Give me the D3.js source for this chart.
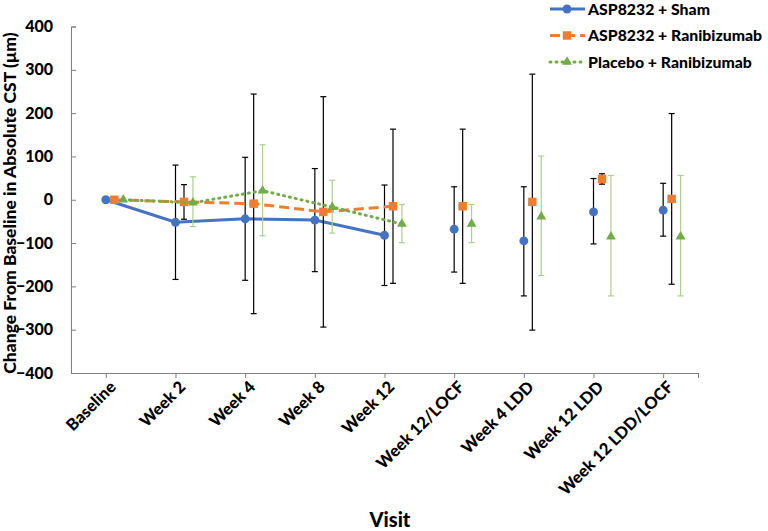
<!DOCTYPE html>
<html>
<head>
<meta charset="utf-8">
<script src="https://cdn.jsdelivr.net/npm/d3@7"></script>
<style>
  body { margin: 0; background: #fff; }
  text { font-family: Lato, "Open Sans", sans-serif; font-weight: 900; fill: #000; }
</style>
</head>
<body>
<div id="chart"></div>
<script>
// visits on the x axis
var visits = ["Baseline", "Week 2", "Week 4", "Week 8", "Week 12", "Week 12/LOCF",
    "Week 4 LDD", "Week 12 LDD", "Week 12 LDD/LOCF"];

var yTicks = [400, 300, 200, 100, 0, -100, -200, -300, -400];

// ASP8232 + Sham
var shamMean = [0, -52, -44, -47, -82, -68, -95, -28, -24];
var shamHigh = [null, 80, 98, 72, 34, 30, 30, 49, 38];
var shamLow = [null, -184, -186, -166, -198, -167, -222, -102, -84];

// ASP8232 + Ranibizumab
var raniMean = [0, -5, -9, -28, -15, -15, -5, 48, 2];
var raniHigh = [null, 35, 244, 238, 163, 163, 290, 60, 199];
var raniLow = [null, -45, -263, -294, -193, -193, -301, 36, -195];

// Placebo + Ranibizumab
var placMean = [0, -7, 21, -17, -56, -56, -39, -85, -85];
var placHigh = [null, 53, 127, 45, -11, -11, 101, 56, 56];
var placLow = [null, -62, -83, -77, -99, -99, -175, -222, -222];

var svgWidth = 768;
var svgHeight = 531;

var svg = d3.select("#chart")
    .append("svg")
    .attr("width", svgWidth)
    .attr("height", svgHeight);

var x = d3.scaleLinear()
    .domain([-0.5, visits.length - 0.5])
    .range([71, 698]);

var y = d3.scaleLinear()
    .domain([-400, 400])
    .range([373, 26.5]);

// axes
var yAxis = d3.axisLeft(y).tickValues(yTicks).tickSize(-5).tickFormat(d3.format("d"));
var gy = svg.append("g")
    .attr("transform", "translate(71,0)")
    .call(yAxis);
gy.select(".domain").attr("stroke", "#7f7f7f");
gy.selectAll(".tick line").attr("stroke", "#7f7f7f");
gy.selectAll(".tick text")
    .attr("x", -18)
    .style("font-size", "16px");

var xAxis = d3.axisBottom(x)
    .tickValues(d3.range(visits.length).concat([visits.length - 0.5]))
    .tickSize(5)
    .tickSizeOuter(0)
    .tickFormat("");
var gx = svg.append("g")
    .attr("transform", "translate(0,373)")
    .call(xAxis);
gx.select(".domain").attr("stroke", "#7f7f7f");
gx.selectAll(".tick line").attr("stroke", "#7f7f7f");

svg.selectAll(".xlabel")
    .data(visits)
    .enter()
    .append("text")
    .attr("class", "xlabel")
    .attr("text-anchor", "end")
    .attr("transform", (d, i) => `translate(${x(i) + 7},${384}) rotate(-45)`)
    .attr("dy", "0.35em")
    .style("font-size", "16.5px")
    .text(d => d);

// axis titles
svg.append("text")
    .attr("transform", "rotate(-90)")
    .attr("x", -203)
    .attr("y", 16)
    .attr("text-anchor", "middle")
    .style("font-size", "17.5px")
    .text("Change From Baseline in Absolute CST (µm)");

svg.append("text")
    .attr("x", 390)
    .attr("y", 527)
    .attr("text-anchor", "middle")
    .style("font-size", "20px")
    .text("Visit");

var series = [
    { name: "ASP8232 + Sham", mean: shamMean, high: shamHigh, low: shamLow, off: 0,
      color: "#4472c4", bar: "#000", dash: null, width: 3, shape: d3.symbolCircle, size: 62 },
    { name: "ASP8232 + Ranibizumab", mean: raniMean, high: raniHigh, low: raniLow, off: 0.122,
      color: "#ed7d31", bar: "#000", dash: "10,5", width: 3, shape: d3.symbolSquare, size: 72 },
    { name: "Placebo + Ranibizumab", mean: placMean, high: placHigh, low: placLow, off: 0.25,
      color: "#70ad47", bar: "#a9d18e", dash: "1,5", width: 3, shape: d3.symbolTriangle, size: 42 }
];

var line = d3.line()
    .x(d => x(d.i + d.off))
    .y(d => y(d.v));

series.forEach(function (s) {
    var pts = s.mean.map((v, i) => ({ i: i, v: v, off: s.off, hi: s.high[i], lo: s.low[i] }));

    // connected only from Baseline to Week 12
    svg.append("path")
        .datum(pts.slice(0, 5))
        .attr("d", line)
        .attr("fill", "none")
        .attr("stroke", s.color)
        .attr("stroke-width", s.width)
        .attr("stroke-linecap", s.dash === "1,5" ? "round" : "butt")
        .attr("stroke-dasharray", s.dash);

    var bars = svg.append("g")
        .selectAll("g")
        .data(pts.filter(d => d.hi !== null))
        .enter()
        .append("g")
        .attr("stroke", s.bar)
        .attr("stroke-width", 1.2);
    bars.append("line")
        .attr("x1", d => x(d.i + d.off)).attr("x2", d => x(d.i + d.off))
        .attr("y1", d => y(d.hi)).attr("y2", d => y(d.lo));
    bars.append("line")
        .attr("x1", d => x(d.i + d.off) - 3).attr("x2", d => x(d.i + d.off) + 3)
        .attr("y1", d => y(d.hi)).attr("y2", d => y(d.hi));
    bars.append("line")
        .attr("x1", d => x(d.i + d.off) - 3).attr("x2", d => x(d.i + d.off) + 3)
        .attr("y1", d => y(d.lo)).attr("y2", d => y(d.lo));

    svg.append("g")
        .selectAll("path")
        .data(pts)
        .enter()
        .append("path")
        .attr("d", d3.symbol().type(s.shape).size(s.size))
        .attr("transform", d => `translate(${x(d.i + d.off)},${y(d.v)})`)
        .attr("fill", s.color);
});

// legend
var legend = svg.append("g");
series.forEach(function (s, k) {
    var ly = 9 + k * 26.5;
    legend.append("line")
        .attr("x1", 550).attr("x2", 585)
        .attr("y1", ly).attr("y2", ly)
        .attr("stroke", s.color)
        .attr("stroke-width", s.width)
        .attr("stroke-linecap", s.dash === "1,5" ? "round" : "butt")
        .attr("stroke-dasharray", s.dash);
    legend.append("path")
        .attr("d", d3.symbol().type(s.shape).size(s.size))
        .attr("transform", `translate(567,${ly})`)
        .attr("fill", s.color);
    legend.append("text")
        .attr("x", 588)
        .attr("y", ly)
        .attr("dy", "0.35em")
        .style("font-size", "15.8px")
        .text(s.name);
});
</script>
</body>
</html>
